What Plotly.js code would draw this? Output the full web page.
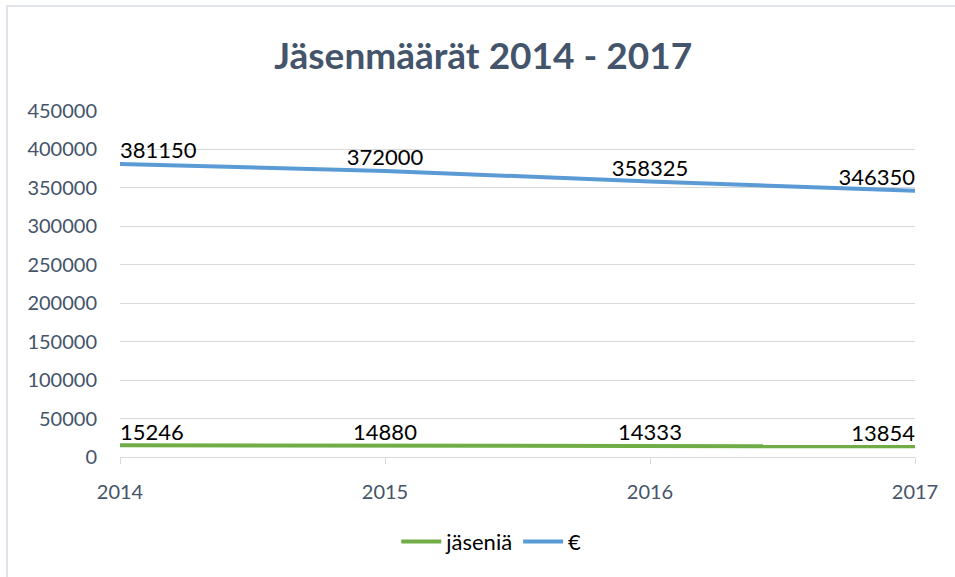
<!DOCTYPE html>
<html>
<head>
<meta charset="utf-8">
<script src="https://cdn.plot.ly/plotly-3.0.1.min.js"></script>
<style>
html,body{margin:0;padding:0;background:#fff;overflow:hidden;}
#chart{width:955px;height:577px;position:absolute;left:0;top:0;}
#frame{position:absolute;left:6px;top:5px;width:1000px;height:700px;border:2px solid #E1E4EA;pointer-events:none;}
</style>
</head>
<body>
<div id="chart"></div>
<div id="frame"></div>
<script>
const years = ['2014', '2015', '2016', '2017'];
const jaseniaValues = [15246, 14880, 14333, 13854];
const euroValues = [381150, 372000, 358325, 346350];
const seriesNames = ['jäseniä', '€'];
const yTicks = [0, 50000, 100000, 150000, 200000, 250000, 300000, 350000, 400000, 450000];

const font = 'Lato, "Open Sans", sans-serif';
const textPos = ['top right', 'top center', 'top center', 'top left'];

const traces = [
  {
    x: years, y: jaseniaValues, name: seriesNames[0], type: 'scatter', mode: 'lines+text',
    line: {color: '#70AD47', width: 4},
    text: jaseniaValues.map(String), textposition: textPos,
    textfont: {family: font, size: 22, color: '#000000'},
    cliponaxis: false, hoverinfo: 'none'
  },
  {
    x: years, y: euroValues, name: seriesNames[1], type: 'scatter', mode: 'lines+text',
    line: {color: '#5B9BD5', width: 4},
    text: euroValues.map(String), textposition: textPos,
    textfont: {family: font, size: 22, color: '#000000'},
    cliponaxis: false, hoverinfo: 'none'
  }
];

const layout = {
  width: 955, height: 577,
  margin: {l: 120, r: 40, t: 111, b: 120, pad: 0},
  paper_bgcolor: 'rgba(0,0,0,0)', plot_bgcolor: 'rgba(0,0,0,0)',
  font: {family: font, color: '#44546A'},
  title: {
    text: '<b>Jäsenmäärät 2014 - 2017</b>',
    font: {family: font, size: 37, color: '#44546A'},
    x: 0.506, xref: 'container', xanchor: 'center',
    y: 0.903, yref: 'container', yanchor: 'middle'
  },
  xaxis: {
    type: 'category', range: [0, 3], showgrid: false,
    showline: true, linecolor: '#D9D9D9', linewidth: 1,
    ticks: 'outside', ticklen: 6, tickcolor: '#D9D9D9',
    tickfont: {family: font, size: 20, color: '#44546A'},
    ticklabelstandoff: 11, zeroline: false, fixedrange: true
  },
  yaxis: {
    range: [0, 450000], tickvals: yTicks, ticktext: yTicks.map(String),
    showgrid: true, gridcolor: '#D9D9D9', gridwidth: 1,
    showline: false, zeroline: false, ticks: '',
    tickfont: {family: font, size: 20, color: '#44546A'},
    ticklabelstandoff: 22, fixedrange: true
  },
  showlegend: true,
  legend: {
    orientation: 'h', x: 0.467, xanchor: 'center', y: -0.245, yanchor: 'middle',
    font: {family: font, size: 22, color: '#000000'},
    itemwidth: 40, bgcolor: 'rgba(0,0,0,0)'
  }
};

Plotly.newPlot('chart', traces, layout, {staticPlot: true, displayModeBar: false});
</script>
</body>
</html>
